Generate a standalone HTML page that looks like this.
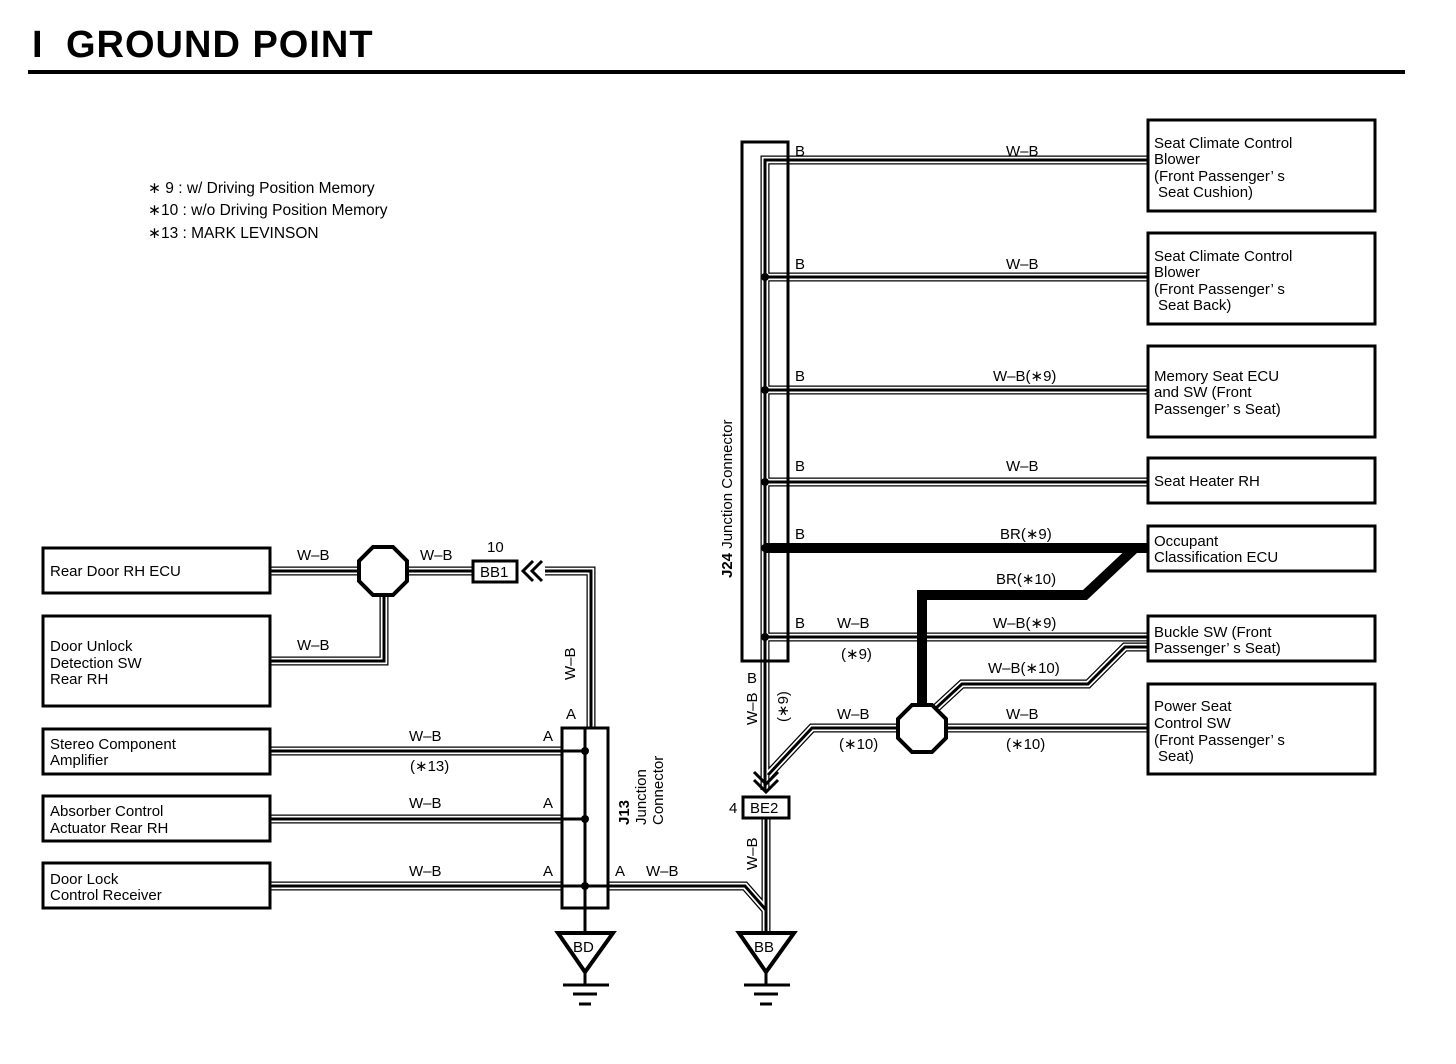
<!DOCTYPE html>
<html><head><meta charset="utf-8"><style>
html,body{margin:0;padding:0;background:#fff}
svg{display:block}
text{font-family:"Liberation Sans",sans-serif;font-size:15px;fill:#000}
.o{fill:none;stroke:#000;stroke-width:9;stroke-linejoin:miter}
.w{fill:none;stroke:#fff;stroke-width:6.5;stroke-linejoin:miter}
.c{fill:none;stroke:#000;stroke-width:3;stroke-linejoin:miter}
.bx{fill:#fff;stroke:#000;stroke-width:3}
</style></head><body>
<svg width="1456" height="1064" viewBox="0 0 1456 1064" xmlns="http://www.w3.org/2000/svg">
<defs>
<g id="wires">
<path d="M765 660 V160 H1148"/>
<path d="M765 277 H1148"/>
<path d="M765 390 H1148"/>
<path d="M765 482 H1148"/>
<path d="M765 637 H1148"/>
<path d="M765 660 V790"/>
<path d="M1148 728 H946"/>
<path d="M898 728 H812 L768 775"/>
<path d="M936 708 L962 684 H1088 L1125 647 H1148"/>
<path d="M766 818 V932"/>
<path d="M270 571 H473"/>
<path d="M270 661 H384 V595"/>
<path d="M545 571 H591 V728"/>
<path d="M270 751 H562"/>
<path d="M270 819 H562"/>
<path d="M270 886 H562"/>
<path d="M608 886 H745 L766 910"/>
</g>
</defs>
<text x="32" y="57" style="font-size:38px;font-weight:bold;letter-spacing:1px"><tspan>I</tspan><tspan x="66">GROUND POINT</tspan></text>
<rect x="28" y="70" width="1377" height="4" fill="#000"/>
<text x="148" y="193" style="font-size:15.5px">∗ 9 : w/ Driving Position Memory</text>
<text x="148" y="215" style="font-size:15.5px">∗10 : w/o Driving Position Memory</text>
<text x="148" y="238" style="font-size:15.5px">∗13 : MARK LEVINSON</text>

<use href="#wires" class="o"/>
<use href="#wires" class="w"/>
<use href="#wires" class="c"/>
<line x1="562" y1="751" x2="585" y2="751" stroke="#000" stroke-width="3"/>
<line x1="562" y1="819" x2="585" y2="819" stroke="#000" stroke-width="3"/>
<line x1="562" y1="886" x2="608" y2="886" stroke="#000" stroke-width="3"/>

<!-- thick BR -->
<path d="M765 548 H1148 M1135 548 L1085 595 H922 V710" fill="none" stroke="#000" stroke-width="10"/>

<!-- J24 -->
<rect x="742" y="142" width="46" height="519" fill="none" stroke="#000" stroke-width="3"/>
<line x1="765" y1="160" x2="765" y2="661" stroke="#000" stroke-width="3"/>
<g fill="#000"><circle cx="765" cy="277" r="4"/><circle cx="765" cy="390" r="4"/><circle cx="765" cy="482" r="4"/><circle cx="765" cy="548" r="4"/><circle cx="765" cy="637" r="4"/></g>
<text transform="translate(732,578) rotate(-90)"><tspan font-weight="bold">J24</tspan> Junction Connector</text>

<!-- right boxes -->
<rect class="bx" x="1148" y="120" width="227" height="91"/>
<rect class="bx" x="1148" y="233" width="227" height="91"/>
<rect class="bx" x="1148" y="346" width="227" height="91"/>
<rect class="bx" x="1148" y="458" width="227" height="45"/>
<rect class="bx" x="1148" y="526" width="227" height="45"/>
<rect class="bx" x="1148" y="616" width="227" height="45"/>
<rect class="bx" x="1148" y="684" width="227" height="90"/>
<text x="1154" y="148">Seat Climate Control</text><text x="1154" y="164">Blower</text><text x="1154" y="181">(Front Passenger’ s</text><text x="1158" y="197">Seat Cushion)</text>
<text x="1154" y="261">Seat Climate Control</text><text x="1154" y="277">Blower</text><text x="1154" y="294">(Front Passenger’ s</text><text x="1158" y="310">Seat Back)</text>
<text x="1154" y="381">Memory Seat ECU</text><text x="1154" y="397">and SW (Front</text><text x="1154" y="414">Passenger’ s Seat)</text>
<text x="1154" y="486">Seat Heater RH</text>
<text x="1154" y="546">Occupant</text><text x="1154" y="562">Classification ECU</text>
<text x="1154" y="637">Buckle SW (Front</text><text x="1154" y="653">Passenger’ s Seat)</text>
<text x="1154" y="711">Power Seat</text><text x="1154" y="728">Control SW</text><text x="1154" y="745">(Front Passenger’ s</text><text x="1158" y="761">Seat)</text>

<!-- right labels -->
<g>
<text x="795" y="156">B</text><text x="1006" y="156">W–B</text>
<text x="795" y="269">B</text><text x="1006" y="269">W–B</text>
<text x="795" y="381">B</text><text x="993" y="381">W–B(∗9)</text>
<text x="795" y="471">B</text><text x="1006" y="471">W–B</text>
<text x="795" y="539">B</text><text x="1000" y="539">BR(∗9)</text>
<text x="996" y="584">BR(∗10)</text>
<text x="795" y="628">B</text><text x="837" y="628">W–B</text><text x="993" y="628">W–B(∗9)</text>
<text x="841" y="659">(∗9)</text>
<text x="988" y="673">W–B(∗10)</text>
<text x="837" y="719">W–B</text><text x="1006" y="719">W–B</text>
<text x="839" y="749">(∗10)</text><text x="1006" y="749">(∗10)</text>
</g>
<text transform="translate(757,725) rotate(-90)">W–B</text>
<text x="747" y="683">B</text>
<text transform="translate(788,722) rotate(-90)">(∗9)</text>

<!-- octagons -->
<polygon points="373,547 393,547 407,561 407,581 393,595 373,595 359,581 359,561" fill="#fff" stroke="#000" stroke-width="4"/>
<polygon points="912,705 932,705 946,719 946,738 932,752 912,752 898,738 898,719" fill="#fff" stroke="#000" stroke-width="4"/>

<!-- BE2 -->
<path d="M754 772 L766 784 L778 772 M754 780 L766 792 L778 780" fill="none" stroke="#000" stroke-width="3"/>
<rect x="743" y="797" width="46" height="21" fill="#fff" stroke="#000" stroke-width="3"/>
<text x="750" y="813">BE2</text><text x="729" y="813">4</text>
<text transform="translate(757,870) rotate(-90)">W–B</text>

<!-- BB1 -->
<rect x="473" y="561" width="44" height="21" fill="#fff" stroke="#000" stroke-width="3"/>
<text x="480" y="577">BB1</text><text x="487" y="552">10</text>
<path d="M533 561 L523 571 L533 581 M542 561 L532 571 L542 581" fill="none" stroke="#000" stroke-width="3"/>
<text x="297" y="560">W–B</text><text x="420" y="560">W–B</text><text x="297" y="650">W–B</text>
<text transform="translate(575,680) rotate(-90)">W–B</text>

<!-- left boxes -->
<rect class="bx" x="43" y="548" width="227" height="45"/>
<rect class="bx" x="43" y="616" width="227" height="90"/>
<rect class="bx" x="43" y="729" width="227" height="45"/>
<rect class="bx" x="43" y="796" width="227" height="45"/>
<rect class="bx" x="43" y="863" width="227" height="45"/>
<text x="50" y="576">Rear Door RH ECU</text>
<text x="50" y="651">Door Unlock</text><text x="50" y="668">Detection SW</text><text x="50" y="684">Rear RH</text>
<text x="50" y="749">Stereo Component</text><text x="50" y="765">Amplifier</text>
<text x="50" y="816">Absorber Control</text><text x="50" y="833">Actuator Rear RH</text>
<text x="50" y="884">Door Lock</text><text x="50" y="900">Control Receiver</text>
<text x="409" y="741">W–B</text><text x="410" y="771">(∗13)</text>
<text x="409" y="808">W–B</text><text x="409" y="876">W–B</text>
<text x="543" y="741">A</text><text x="543" y="808">A</text><text x="543" y="876">A</text>
<text x="566" y="719">A</text><text x="615" y="876">A</text><text x="646" y="876">W–B</text>

<!-- J13 -->
<rect x="562" y="728" width="46" height="180" fill="none" stroke="#000" stroke-width="3"/>
<line x1="585" y1="728" x2="585" y2="932" stroke="#000" stroke-width="3"/>
<g fill="#000"><circle cx="585" cy="751" r="4"/><circle cx="585" cy="819" r="4"/><circle cx="585" cy="886" r="4"/></g>
<text transform="translate(629,825) rotate(-90)"><tspan font-weight="bold">J13</tspan></text>
<text transform="translate(646,825) rotate(-90)">Junction</text>
<text transform="translate(663,825) rotate(-90)">Connector</text>

<!-- grounds -->
<g fill="#fff" stroke="#000" stroke-width="4">
<polygon points="558,933 613,933 585,972"/>
<polygon points="739,933 794,933 766,972"/>
</g>
<text x="573" y="952">BD</text><text x="754" y="952">BB</text>
<g stroke="#000" stroke-width="3">
<line x1="585" y1="972" x2="585" y2="985"/><line x1="563" y1="985" x2="609" y2="985"/><line x1="573" y1="994" x2="597" y2="994"/><line x1="579" y1="1004" x2="591" y2="1004"/>
<line x1="766" y1="972" x2="766" y2="985"/><line x1="744" y1="985" x2="790" y2="985"/><line x1="754" y1="994" x2="778" y2="994"/><line x1="760" y1="1004" x2="772" y2="1004"/>
</g>
</svg>
</body></html>
